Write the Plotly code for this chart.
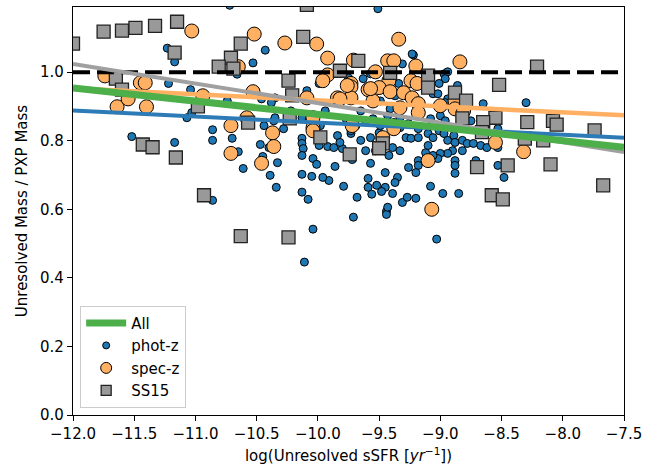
import plotly.graph_objects as go

# ---------------- data ----------------
phot_x = [-10.72, -11.23, -11.17, -10.43, -10.53, -10.25, -11.04, -11.22, -11.07, -11.03,
          -11.52, -11.17, -10.86, -10.86, -10.70, -10.65, -10.61, -10.47, -10.45, -10.39,
          -10.34, -10.33, -10.44, -10.36, -10.35, -10.46, -10.28, -10.09, -10.13, -10.13,
          -10.13, -10.12, -10.13, -9.99, -10.04, -10.01, -10.13, -10.05, -10.13, -10.08,
          -9.91, -9.86, -9.92, -9.87, -9.84, -9.80, -9.79, -9.71, -9.68, -9.72,
          -9.73, -9.75, -9.99, -9.82, -10.04, -10.11, -9.59, -9.52, -9.45, -9.56,
          -9.48, -9.39, -9.44, -9.44, -9.31, -9.27, -9.20, -9.08, -9.03, -8.98,
          -8.85, -10.86, -9.63, -9.57, -9.73, -9.96, -9.57, -9.59, -9.45, -9.57,
          -9.50, -9.22, -9.31, -8.97, -8.94, -8.96, -8.86, -9.06, -9.02, -8.94,
          -8.96, -9.34, -9.41, -9.43, -9.33, -9.38, -9.33, -9.28, -9.26, -9.18,
          -9.24, -9.18, -9.10, -9.06, -9.01, -8.97, -8.94, -8.89, -8.88, -8.82,
          -8.78, -8.73, -8.67, -8.82, -8.90, -8.88, -8.88, -8.88, -8.94, -9.00,
          -9.02, -9.06, -9.12, -9.18, -9.18, -9.20, -9.26, -9.33, -9.39, -9.42,
          -9.35, -9.37, -9.43, -8.71, -9.51, -9.23, -9.01, -8.65, -8.30, -8.79,
          -8.78, -8.63, -8.62, -8.53, -8.53, -8.48, -8.53, -10.66, -10.38, -10.35,
          -10.40, -10.74, -9.65, -9.61, -9.69, -9.55, -9.49, -9.77, -9.65, -9.53,
          -9.61, -9.45, -9.16, -9.08, -9.00, -9.10, -8.96, -8.83, -8.75, -9.49,
          -9.37, -9.94, -9.98, -10.22]
phot_y = [1.195, 1.070, 1.030, 1.064, 1.027, 0.981, 0.949, 0.967, 0.867, 0.882,
          0.812, 0.795, 0.832, 0.801, 0.807, 0.768, 0.719, 0.789, 0.754, 0.699,
          0.664, 0.736, 0.844, 0.858, 0.925, 0.922, 0.835, 0.946, 0.867, 0.807,
          0.792, 0.777, 0.757, 0.786, 0.748, 0.731, 0.702, 0.696, 0.650, 0.629,
          0.684, 0.725, 0.783, 0.780, 0.815, 0.777, 0.667, 0.577, 0.635, 0.745,
          0.821, 0.983, 0.967, 0.795, 0.542, 0.446, 0.664, 0.670, 0.664, 0.644,
          0.652, 0.646, 0.594, 0.585, 0.620, 0.635, 0.632, 0.667, 0.513, 0.646,
          0.646, 0.626, 0.981, 0.995, 0.829, 0.693, 0.734, 0.690, 0.707, 0.809,
          0.823, 1.050, 1.024, 0.995, 1.001, 0.981, 0.961, 0.937, 0.937, 0.922,
          0.911, 0.967, 0.893, 0.873, 0.867, 0.853, 0.838, 0.809, 0.850, 0.835,
          0.807, 0.809, 0.821, 0.809, 0.829, 0.821, 0.801, 0.815, 0.795, 0.801,
          0.792, 0.792, 0.786, 0.771, 0.771, 0.742, 0.728, 0.705, 0.763, 0.763,
          0.748, 0.757, 0.765, 0.742, 0.728, 0.707, 0.722, 0.771, 0.780, 0.757,
          0.693, 0.678, 0.606, 0.742, 1.185, 1.053, 0.967, 0.908, 0.911, 0.922,
          0.911, 0.858, 0.780, 0.835, 0.780, 0.693, 0.728, 0.994, 0.911, 0.867,
          0.780, 0.916, 0.887, 0.858, 0.844, 0.864, 0.844, 0.864, 0.801, 0.771,
          0.771, 0.801, 0.882, 0.864, 0.873, 0.786, 0.858, 0.844, 0.858, 0.916,
          0.931, 0.887, 0.844, 0.887]

spec_x = [-11.03, -10.52, -10.27, -10.01, -9.92, -9.71, -10.65, -9.92, -9.96, -11.74,
          -11.45, -11.41, -11.64, -11.40, -11.55, -10.94, -10.53, -10.58, -10.71, -10.37,
          -10.36, -10.71, -10.46, -10.09, -10.04, -9.84, -9.73, -10.04, -9.34, -8.84,
          -9.43, -9.38, -9.20, -9.53, -9.24, -9.19, -9.42, -9.73, -9.59, -9.50,
          -9.41, -9.30, -9.73, -9.55, -9.23, -9.18, -9.33, -9.00, -8.88, -8.88,
          -8.81, -9.18, -9.72, -9.47, -9.38, -9.10, -8.55, -8.32, -9.07, -9.76,
          -9.57, -9.82, -10.04]
spec_y = [1.120, 1.111, 1.085, 1.082, 1.041, 1.035, 1.016, 0.992, 0.975, 0.989,
          0.969, 0.969, 0.899, 0.899, 0.922, 0.931, 0.943, 0.867, 0.844, 0.823,
          0.783, 0.763, 0.734, 0.925, 0.838, 0.925, 0.967, 0.867, 1.096, 1.030,
          1.033, 1.033, 1.018, 1.001, 0.975, 0.967, 0.975, 0.957, 0.949, 0.955,
          0.943, 0.940, 0.925, 0.916, 0.925, 0.908, 0.896, 0.902, 0.916, 0.893,
          0.887, 0.882, 0.844, 0.809, 0.835, 0.742, 0.795, 0.768, 0.600, 0.961,
          0.952, 0.922, 0.829]

ss15_x = [-12.00, -11.75, -11.60, -11.49, -11.33, -11.15, -11.17, -10.63, -10.71, -10.81,
          -10.12, -10.09, -10.24, -9.82, -11.65, -11.60, -10.98, -10.57, -11.43, -11.35,
          -11.16, -10.93, -10.63, -10.24, -9.67, -9.10, -9.10, -8.88, -8.52, -8.21,
          -8.55, -8.65, -8.29, -8.08, -8.05, -7.74, -8.31, -8.16, -8.45, -8.70,
          -8.10, -7.67, -8.58, -8.49, -9.74, -9.47, -9.50, -8.82, -8.66, -10.21,
          -9.98, -9.41, -8.79, -10.69, -10.23]
ss15_y = [1.083, 1.118, 1.121, 1.129, 1.135, 1.147, 1.057, 1.083, 1.042, 1.016,
          1.103, 1.196, 0.975, 1.004, 0.981, 0.949, 0.900, 0.853, 0.789, 0.781,
          0.751, 0.641, 0.522, 0.518, 1.033, 0.990, 0.955, 0.940, 0.963, 1.016,
          0.867, 0.854, 0.854, 0.858, 0.847, 0.830, 0.806, 0.801, 0.728, 0.723,
          0.731, 0.670, 0.641, 0.629, 0.760, 0.792, 0.778, 0.865, 0.825, 0.932,
          0.810, 0.998, 0.917, 1.010, 0.865]

# linear fits (end points)
fit_x = [-12.0, -7.5]
fit_all = [0.954, 0.781]
fit_phot = [0.888, 0.809]
fit_spec = [0.953, 0.874]
fit_ss15 = [1.024, 0.767]
unity_y = [1.0, 1.0]

x_ticks = [-12.0, -11.5, -11.0, -10.5, -10.0, -9.5, -9.0, -8.5, -8.0, -7.5]
y_ticks = [0.0, 0.2, 0.4, 0.6, 0.8, 1.0]

BLUE = "#1f77b4"
ORANGE = "#ffb062"
GREY = "#999999"
GREYLINE = "#a0a0a0"
GREEN = "#4daf4a"
FONT = "DejaVu Sans"
FS = 15

fig = go.Figure()

# data markers
fig.add_trace(go.Scatter(
    x=phot_x, y=phot_y, mode="markers", name="phot-z", showlegend=False,
    marker=dict(color=BLUE, size=8, line=dict(color="black", width=1))))
fig.add_trace(go.Scatter(
    x=spec_x, y=spec_y, mode="markers", name="spec-z", showlegend=False,
    marker=dict(color=ORANGE, size=14, line=dict(color="black", width=1))))
fig.add_trace(go.Scatter(
    x=ss15_x, y=ss15_y, mode="markers", name="SS15", showlegend=False,
    marker=dict(color=GREY, size=13, symbol="square", line=dict(color="#222222", width=1.3))))

# lines (drawn above the markers, as in the reference)
fig.add_trace(go.Scatter(x=fit_x, y=unity_y, mode="lines", showlegend=False,
                         line=dict(color="black", width=4, dash="17px,7px")))
fig.add_trace(go.Scatter(x=fit_x, y=fit_phot, mode="lines", showlegend=False,
                         line=dict(color="#2c7bb6", width=4)))
fig.add_trace(go.Scatter(x=fit_x, y=fit_spec, mode="lines", showlegend=False,
                         line=dict(color=ORANGE, width=4.5)))
fig.add_trace(go.Scatter(x=fit_x, y=fit_ss15, mode="lines", showlegend=False,
                         line=dict(color=GREYLINE, width=4)))
fig.add_trace(go.Scatter(x=fit_x, y=fit_all, mode="lines", name="All", legendrank=1,
                         line=dict(color=GREEN, width=7)))

# legend-only entries with smaller symbols (as in the reference legend)
fig.add_trace(go.Scatter(x=[None], y=[None], mode="markers", name="phot-z", legendrank=2,
                         marker=dict(color=BLUE, size=7, line=dict(color="black", width=1))))
fig.add_trace(go.Scatter(x=[None], y=[None], mode="markers", name="spec-z", legendrank=3,
                         marker=dict(color=ORANGE, size=11, line=dict(color="black", width=1))))
fig.add_trace(go.Scatter(x=[None], y=[None], mode="markers", name="SS15", legendrank=4,
                         marker=dict(color=GREY, size=10, symbol="square",
                                     line=dict(color="#222222", width=1.3))))

axis_common = dict(
    showline=True, mirror=True, linecolor="black", linewidth=1.3,
    ticks="outside", ticklen=5, tickwidth=1.2, tickcolor="black",
    showgrid=False, zeroline=False, tickformat=".1f",
    tickfont=dict(family=FONT, size=FS, color="black"),
)

fig.update_layout(
    width=662, height=468,
    margin=dict(l=73, r=38, t=6, b=52),
    paper_bgcolor="white", plot_bgcolor="white",
    font=dict(family=FONT, size=FS, color="black"),
    xaxis=dict(range=[-12.0, -7.5], tickvals=x_ticks,
               title=dict(text="log(Unresolved sSFR [<i>yr</i><sup>−1</sup>])",
                          font=dict(family=FONT, size=FS), standoff=8),
               **axis_common),
    yaxis=dict(range=[0.0, 1.19], tickvals=y_ticks,
               title=dict(text="Unresolved Mass / PXP Mass",
                          font=dict(family=FONT, size=FS), standoff=8),
               **axis_common),
    legend=dict(x=0.013, y=0.018, xanchor="left", yanchor="bottom",
                bgcolor="rgba(255,255,255,0.85)", bordercolor="#cccccc", borderwidth=1,
                font=dict(family=FONT, size=FS, color="black"),
                itemwidth=40, traceorder="normal", tracegroupgap=0),
)

fig.write_html("out.html")
